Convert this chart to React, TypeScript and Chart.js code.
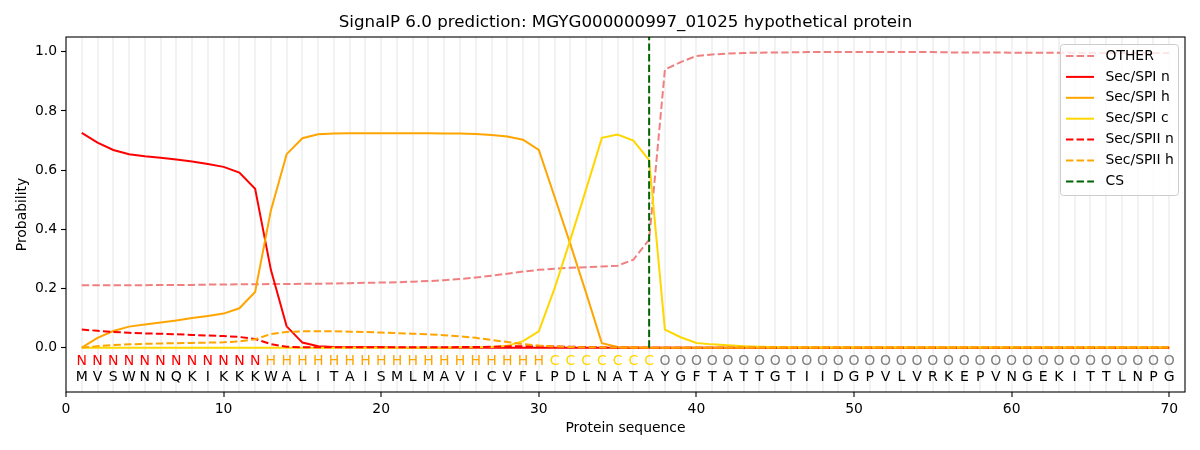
import { useEffect, useRef } from "react";
import { Chart, registerables } from "chart.js";

Chart.register(...registerables);

const sequence = "MVSWNNQKIKKKWALITAISMLMAVICVFLPDLNATAYGFTATTGTIIDGPVLVRKEPVNGEKITTLNPG".split("");
const regionLabels = "NNNNNNNNNNNNHHHHHHHHHHHHHHHHHHCCCCCCCOOOOOOOOOOOOOOOOOOOOOOOOOOOOOOOOO".split("");
const positions = sequence.map((_, i) => i + 1);

const other = [
  0.211, 0.211, 0.211, 0.211, 0.211, 0.212, 0.212, 0.212, 0.213, 0.213,
  0.214, 0.214, 0.215, 0.215, 0.216, 0.216, 0.217, 0.218, 0.219, 0.22,
  0.221, 0.223, 0.225, 0.228, 0.232, 0.237, 0.243, 0.25, 0.257, 0.263,
  0.267, 0.27, 0.272, 0.274, 0.277, 0.297, 0.365, 0.94, 0.965, 0.986,
  0.991, 0.994, 0.996, 0.997, 0.998, 0.998, 0.999, 0.999, 0.999, 0.999,
  0.999, 0.999, 0.999, 0.999, 0.999, 0.998, 0.998, 0.998, 0.998, 0.997,
  0.997, 0.997, 0.997, 0.997, 0.996, 0.996, 0.996, 0.996, 0.996, 0.996,
];
const spiN = [
  0.726, 0.693, 0.668, 0.654, 0.647, 0.642, 0.636, 0.629, 0.621, 0.611,
  0.592, 0.537, 0.263, 0.072, 0.017, 0.005, 0.002, 0.001, 0.001, 0.001,
  0, 0, 0, 0, 0, 0, 0, 0, 0, 0,
  0, 0, 0, 0, 0, 0, 0, 0, 0, 0,
  0, 0, 0, 0, 0, 0, 0, 0, 0, 0,
  0, 0, 0, 0, 0, 0, 0, 0, 0, 0,
  0, 0, 0, 0, 0, 0, 0, 0, 0, 0,
];
const spiH = [
  0, 0.033, 0.056, 0.071, 0.078, 0.085, 0.092, 0.1, 0.107, 0.115,
  0.133, 0.188, 0.464, 0.654, 0.708, 0.721, 0.724, 0.725, 0.725, 0.725,
  0.725, 0.725, 0.725, 0.724, 0.724, 0.722, 0.719, 0.714, 0.703, 0.668,
  0.51, 0.35, 0.185, 0.015, 0.002, 0.001, 0, 0, 0, 0,
  0, 0, 0, 0, 0, 0, 0, 0, 0, 0,
  0, 0, 0, 0, 0, 0, 0, 0, 0, 0,
  0, 0, 0, 0, 0, 0, 0, 0, 0, 0,
];
const spiC = [
  0, 0, 0, 0, 0, 0, 0, 0, 0, 0,
  0, 0, 0, 0, 0, 0, 0, 0, 0, 0,
  0, 0, 0, 0, 0.001, 0.001, 0.002, 0.006, 0.022, 0.055,
  0.2, 0.365, 0.535, 0.709, 0.72, 0.7, 0.634, 0.061, 0.035, 0.016,
  0.011, 0.008, 0.005, 0.003, 0.002, 0.001, 0.001, 0.001, 0.001, 0.001,
  0.001, 0.001, 0.001, 0.001, 0.001, 0.001, 0.001, 0.001, 0.001, 0.001,
  0.001, 0.001, 0.001, 0.001, 0.001, 0.001, 0.001, 0.001, 0.001, 0.001,
];
const spiiN = [
  0.061, 0.057, 0.053, 0.05, 0.048, 0.047, 0.045, 0.043, 0.041, 0.039,
  0.036, 0.029, 0.012, 0.003, 0.001, 0.001, 0.001, 0.001, 0.001, 0.001,
  0.001, 0.001, 0.001, 0.001, 0.002, 0.002, 0.003, 0.004, 0.005, 0.005,
  0.004, 0.003, 0.002, 0.001, 0, 0, 0, 0, 0, 0,
  0, 0, 0, 0, 0, 0, 0, 0, 0, 0,
  0, 0, 0, 0, 0, 0, 0, 0, 0, 0,
  0, 0, 0, 0, 0, 0, 0, 0, 0, 0,
];
const spiiH = [
  0, 0.005, 0.009, 0.011, 0.013, 0.014, 0.015, 0.016, 0.017, 0.018,
  0.021, 0.028, 0.046, 0.053, 0.055, 0.055, 0.055, 0.054, 0.053, 0.051,
  0.049, 0.047, 0.045, 0.042, 0.038, 0.033, 0.026, 0.019, 0.012, 0.007,
  0.004, 0.002, 0.001, 0.001, 0, 0, 0, 0, 0, 0,
  0, 0, 0, 0, 0, 0, 0, 0, 0, 0,
  0, 0, 0, 0, 0, 0, 0, 0, 0, 0,
  0, 0, 0, 0, 0, 0, 0, 0, 0, 0,
];
const cleavageSite = 37;
const yTicks = [0, 0.2, 0.4, 0.6, 0.8, 1.0];

const FONT = "DejaVu Sans";
const DASH = [7.4, 3.2];
const labelColors: Record<string, string> = {
  N: "#ff0000",
  H: "#ffa500",
  C: "#ffd700",
  O: "#808080",
};

const series = [
  { label: "OTHER", data: other, color: "#f08080", dash: DASH },
  { label: "Sec/SPI n", data: spiN, color: "#ff0000", dash: [] },
  { label: "Sec/SPI h", data: spiH, color: "#ffa500", dash: [] },
  { label: "Sec/SPI c", data: spiC, color: "#ffd700", dash: [] },
  { label: "Sec/SPII n", data: spiiN, color: "#ff0000", dash: DASH },
  { label: "Sec/SPII h", data: spiiH, color: "#ffa500", dash: DASH },
];

const decorPlugin = {
  id: "decor",
  afterDatasetsDraw(chart: any) {
    const { ctx, chartArea, scales } = chart;
    const xs = scales.x;
    const ys = scales.y;
    ctx.save();
    // residue letters under the curves
    ctx.font = `14px "${FONT}"`;
    ctx.textAlign = "center";
    ctx.textBaseline = "middle";
    const yLab = ys.getPixelForValue(-0.047);
    const ySeq = ys.getPixelForValue(-0.1);
    positions.forEach((p, i) => {
      const px = xs.getPixelForValue(p);
      ctx.fillStyle = labelColors[regionLabels[i]];
      ctx.fillText(regionLabels[i], px, yLab);
      ctx.fillStyle = "#000000";
      ctx.fillText(sequence[i], px, ySeq);
    });
    // frame
    ctx.strokeStyle = "#000000";
    ctx.lineWidth = 1.1;
    ctx.strokeRect(chartArea.left, chartArea.top, chartArea.right - chartArea.left, chartArea.bottom - chartArea.top);
    ctx.restore();
  },
  afterDraw(chart: any) {
    const { ctx, chartArea } = chart;
    const cx = (chartArea.left + chartArea.right) / 2;
    ctx.save();
    ctx.fillStyle = "#000000";
    ctx.textAlign = "center";
    ctx.textBaseline = "middle";
    ctx.font = `16.7px "${FONT}"`;
    ctx.fillText("SignalP 6.0 prediction: MGYG000000997_01025 hypothetical protein", cx, 23);
    ctx.font = `13.9px "${FONT}"`;
    ctx.fillText("Protein sequence", cx, 428);
    ctx.save();
    ctx.translate(22, (chartArea.top + chartArea.bottom) / 2);
    ctx.rotate(-Math.PI / 2);
    ctx.fillText("Probability", 0, 0);
    ctx.restore();

    // legend
    const bx = 1060.5, by = 44.5, bw = 118, bh = 151;
    ctx.beginPath();
    ctx.roundRect(bx, by, bw, bh, 3);
    ctx.fillStyle = "rgba(255,255,255,0.8)";
    ctx.fill();
    ctx.strokeStyle = "#cccccc";
    ctx.lineWidth = 1;
    ctx.stroke();
    const items = [
      ...series.map((s) => ({ label: s.label, color: s.color, dash: s.dash })),
      { label: "CS", color: "#006400", dash: DASH },
    ];
    ctx.textAlign = "left";
    items.forEach((it, i) => {
      const y = 56 + i * 20.9;
      ctx.beginPath();
      ctx.setLineDash(it.dash);
      ctx.strokeStyle = it.color;
      ctx.lineWidth = 2;
      ctx.moveTo(1066, y);
      ctx.lineTo(1094, y);
      ctx.stroke();
      ctx.setLineDash([]);
      ctx.fillStyle = "#000000";
      ctx.fillText(it.label, 1105.5, y);
    });
    ctx.restore();
  },
};

export default function App() {
  const chartRef = useRef<HTMLCanvasElement | null>(null);

  useEffect(() => {
    document.body.style.margin = "0";
    if (!chartRef.current) return;
    const datasets: any[] = series.map((s, i) => ({
      label: s.label,
      data: positions.map((p, j) => ({ x: p, y: s.data[j] })),
      borderColor: s.color,
      borderDash: s.dash,
      borderWidth: 2,
      pointRadius: 0,
      tension: 0,
      fill: false,
      order: 10 - i,
    }));
    datasets.push({
      label: "CS",
      data: [
        { x: cleavageSite, y: 0 },
        { x: cleavageSite, y: 1.05 },
      ],
      borderColor: "#006400",
      borderDash: DASH,
      borderWidth: 2,
      pointRadius: 0,
      fill: false,
      order: 0,
    });

    const chartInstance = new Chart(chartRef.current, {
      type: "line",
      data: { datasets },
      options: {
        animation: false,
        responsive: false,
        devicePixelRatio: 1,
        layout: { padding: { top: 37, right: 15, left: 0, bottom: 0 } },
        plugins: {
          legend: { display: false },
          title: { display: false },
          tooltip: { enabled: false },
        },
        scales: {
          x: {
            type: "linear",
            min: 0,
            max: 71,
            afterBuildTicks: (scale: any) => {
              scale.ticks = Array.from({ length: 72 }, (_, i) => ({ value: i }));
            },
            afterFit: (scale: any) => {
              scale.height = 58;
            },
            border: { display: false },
            grid: {
              color: (c: any) => (c.tick && c.tick.value >= 1 && c.tick.value <= 70 ? "#f2f2f2" : "rgba(0,0,0,0)"),
              lineWidth: 2,
              tickLength: 5,
              tickColor: (c: any) => (c.tick && c.tick.value % 10 === 0 ? "#000000" : "rgba(0,0,0,0)"),
              tickWidth: 1.1,
            },
            ticks: {
              autoSkip: false,
              maxRotation: 0,
              padding: 4,
              color: "#000000",
              font: { family: FONT, size: 13.9 },
              callback: (v: any) => (Number(v) % 10 === 0 ? String(v) : ""),
            },
          },
          y: {
            type: "linear",
            min: -0.15,
            max: 1.05,
            afterBuildTicks: (scale: any) => {
              scale.ticks = yTicks.map((v) => ({ value: v }));
            },
            afterFit: (scale: any) => {
              scale.width = 66;
            },
            border: { display: false },
            grid: {
              drawOnChartArea: false,
              tickLength: 5,
              tickColor: "#000000",
              tickWidth: 1.1,
            },
            ticks: {
              padding: 4,
              color: "#000000",
              font: { family: FONT, size: 13.9 },
              callback: (v: any) => Number(v).toFixed(1),
            },
          },
        },
      },
      plugins: [decorPlugin],
    });

    return () => {
      chartInstance.destroy();
    };
  }, []);

  return <canvas ref={chartRef} width={1200} height={450} />;
}
